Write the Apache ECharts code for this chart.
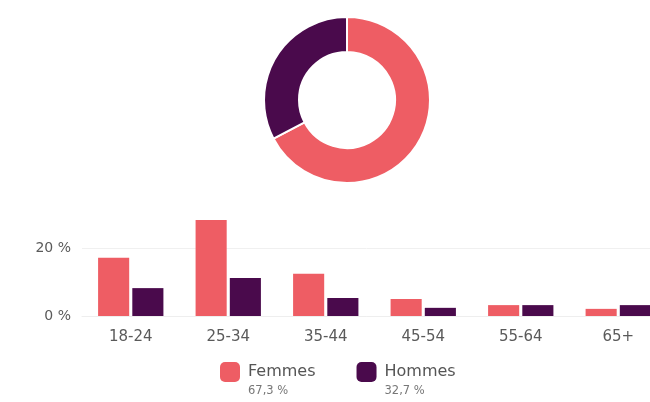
<!DOCTYPE html>
<html><head><meta charset="utf-8">
<script src="https://cdn.jsdelivr.net/npm/echarts@6/dist/echarts.min.js"></script>
<style>html,body{margin:0;padding:0;background:#fff}#c{width:650px;height:402px}</style>
</head><body><div id="c"></div>
<script>
const categories = ['18-24','25-34','35-44','45-54','55-64','65+'];
const femmes = [17.1, 28.2, 12.4, 5.0, 3.2, 2.1];
const hommes = [8.2, 11.2, 5.3, 2.4, 3.2, 3.2];
const genderNames = ['Femmes','Hommes'];
const genderShares = [67.3, 32.7];
const colors = ['#EE5D64', '#4A0A4C'];

const fmtPct = v => v.toFixed(1).replace('.', ',') + ' %';
const chart = echarts.init(document.getElementById('c'));
const font = '"DejaVu Sans", sans-serif';
chart.setOption({
  animation: false,
  textStyle: { fontFamily: font },
  color: colors,
  legend: {
    data: genderNames,
    bottom: 0, left: 215,
    itemWidth: 20, itemHeight: 20, itemGap: 41,
    icon: 'roundRect',
    formatter: name => {
      const i = genderNames.indexOf(name);
      return '{e|}\n{n|' + name + '}\n{p|' + fmtPct(genderShares[i]) + '}';
    },
    textStyle: {
      padding: [0, 0, 0, 3],
      rich: {
        e: { height: 18, fontSize: 11 },
        n: { fontSize: 16, color: '#555', lineHeight: 20, fontFamily: font },
        p: { fontSize: 11.5, color: '#777', lineHeight: 18, fontFamily: font }
      }
    }
  },
  grid: { left: 82, width: 585, top: 214, bottom: 86, outerBoundsMode: 'none', containLabel: false },
  xAxis: {
    type: 'category', data: categories,
    axisLine: { lineStyle: { color: '#eeeeee' } },
    axisTick: { show: false },
    axisLabel: { color: '#5a5a5a', fontSize: 15, margin: 14, fontFamily: font }
  },
  yAxis: {
    type: 'value', min: 0, max: 30, interval: 20,
    axisLabel: { color: '#5a5a5a', fontSize: 14, margin: 11, showMaxLabel: false, formatter: v => v + ' %', fontFamily: font },
    splitLine: { showMaxLine: false, lineStyle: { color: '#f0f0f0' } },
    axisLine: { show: false }, axisTick: { show: false }
  },
  series: [
    { name: genderNames[0], type: 'bar', data: femmes, barGap: '10%', barCategoryGap: '33%', itemStyle: { color: colors[0] } },
    { name: genderNames[1], type: 'bar', data: hommes, itemStyle: { color: colors[1] } },
    {
      name: 'Genre', type: 'pie', center: [347, 100], radius: [48, 83],
      startAngle: 90, clockwise: true,
      label: { show: false }, labelLine: { show: false },
      itemStyle: { borderColor: '#fff', borderWidth: 2 },
      emphasis: { disabled: true },
      data: genderNames.map((n, i) => ({ name: n, value: genderShares[i], itemStyle: { color: colors[i] } }))
    }
  ]
});
</script></body></html>
